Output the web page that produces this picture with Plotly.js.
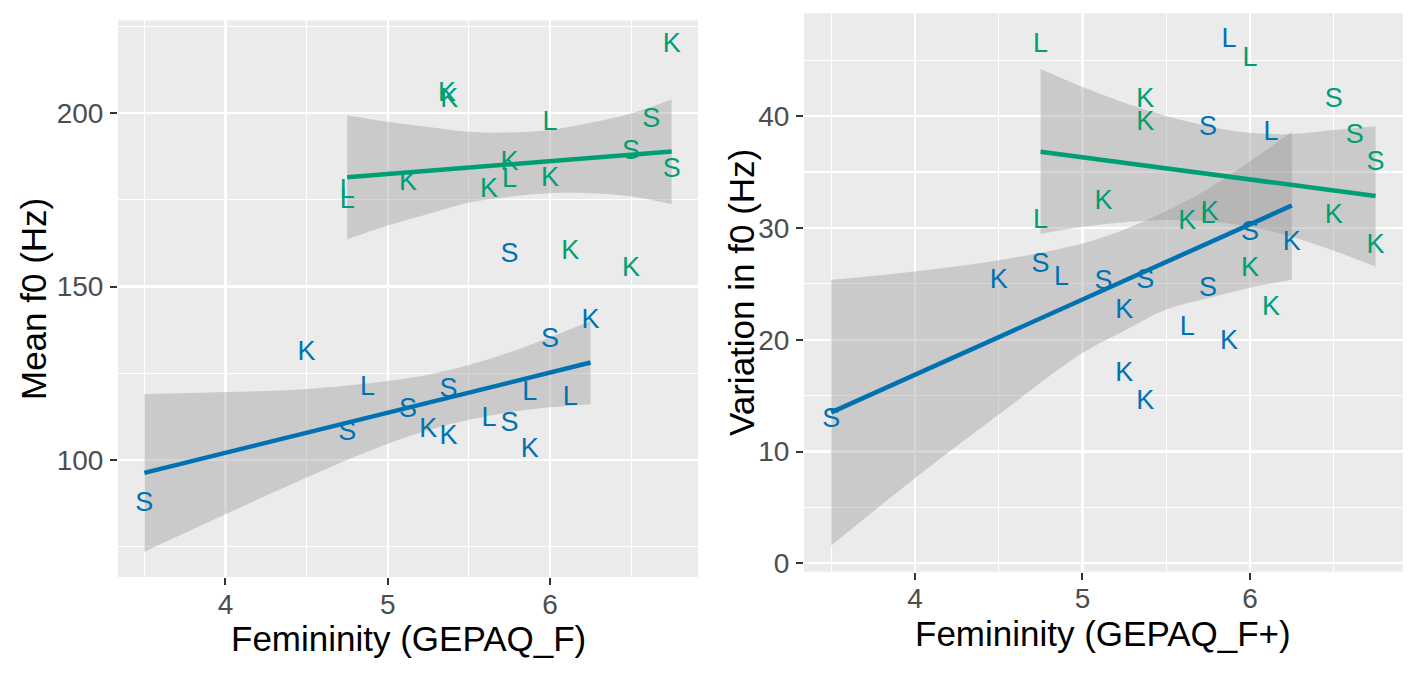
<!DOCTYPE html>
<html>
<head>
<meta charset="utf-8">
<script src="https://cdn.plot.ly/plotly-3.0.1.min.js"></script>
<style>
    html, body { margin: 0; padding: 0; background: #fff; }
    #chart { width: 1417px; height: 675px; }
</style>
</head>
<body>
<div id="chart"></div>
<script>
// ---- left panel: Mean f0 vs GEPAQ_F ----
const leftGreenX = [6.75, 5.365, 5.38, 6.0, 6.625, 6.5, 6.75, 5.75, 5.75, 6.0, 5.125, 5.625, 4.75, 4.75, 6.125, 6.5];
const leftGreenY = [219.4, 205.3, 203.6, 197.2, 198.0, 188.7, 183.6, 185.5, 180.7, 180.9, 179.7, 177.8, 177.6, 174.7, 159.9, 155.0];
const leftGreenLab = ['K', 'K', 'K', 'L', 'S', 'S', 'S', 'K', 'L', 'K', 'K', 'K', 'L', 'L', 'K', 'K'];

const leftBlueX = [6.25, 6.0, 4.5, 4.875, 5.375, 5.875, 6.125, 5.125, 4.75, 5.25, 5.375, 5.625, 5.75, 5.875, 3.5, 5.75];
const leftBlueY = [139.9, 134.6, 130.7, 120.8, 120.2, 119.2, 117.8, 114.4, 107.7, 108.6, 106.7, 111.8, 110.2, 102.9, 87.2, 159.1];
const leftBlueLab = ['K', 'S', 'K', 'L', 'S', 'L', 'L', 'S', 'S', 'K', 'K', 'L', 'S', 'K', 'S', 'S'];

const leftGreenFitX = [4.75, 6.75];
const leftGreenFitY = [181.5, 188.9];
const leftGreenBandX = [4.75, 5.0, 5.25, 5.5, 5.75, 6.0, 6.25, 6.5, 6.75];
const leftGreenBandHi = [199.4, 197.5, 196.0, 194.6, 194.4, 195.1, 197.2, 199.9, 203.9];
const leftGreenBandLo = [163.6, 167.6, 170.9, 174.2, 175.9, 176.9, 176.9, 176.0, 173.7];

const leftBlueFitX = [3.5, 6.25];
const leftBlueFitY = [96.3, 128.1];
const leftBlueBandX = [3.5, 4.0, 4.5, 5.0, 5.25, 5.5, 5.75, 6.0, 6.25];
const leftBlueBandHi = [119.0, 119.6, 120.5, 122.8, 124.6, 127.4, 131.0, 135.4, 140.1];
const leftBlueBandLo = [73.6, 84.4, 95.0, 104.7, 108.6, 111.6, 113.8, 115.2, 116.1];

// ---- right panel: Variation in f0 vs GEPAQ_F+ ----
const rightGreenX = [4.75, 6.0, 6.5, 5.375, 5.375, 6.625, 6.75, 5.125, 4.75, 5.625, 5.75, 5.76, 6.5, 6.75, 6.0, 6.125];
const rightGreenY = [46.3, 45.1, 41.4, 41.4, 39.4, 38.2, 35.8, 32.3, 30.6, 30.5, 31.0, 31.35, 31.0, 28.35, 26.3, 22.8];
const rightGreenLab = ['L', 'L', 'S', 'K', 'K', 'S', 'S', 'K', 'L', 'K', 'L', 'K', 'K', 'K', 'K', 'K'];

const rightBlueX = [5.875, 5.75, 6.125, 6.0, 6.25, 4.75, 4.875, 4.5, 5.125, 5.375, 5.75, 5.25, 5.625, 5.875, 5.25, 5.375, 3.5];
const rightBlueY = [46.8, 38.9, 38.46, 29.5, 28.6, 26.7, 25.5, 25.2, 25.1, 25.25, 24.55, 22.5, 21.0, 19.8, 16.9, 14.4, 12.8];
const rightBlueLab = ['L', 'S', 'L', 'S', 'K', 'S', 'L', 'K', 'S', 'S', 'S', 'K', 'L', 'K', 'K', 'K', 'S'];

const rightGreenFitX = [4.75, 6.75];
const rightGreenFitY = [36.8, 32.85];
const rightGreenBandX = [4.75, 5.0, 5.25, 5.5, 5.75, 6.0, 6.25, 6.5, 6.75];
const rightGreenBandHi = [44.2, 42.6, 41.2, 40.0, 39.1, 38.5, 38.4, 38.75, 39.1];
const rightGreenBandLo = [29.45, 30.1, 30.5, 30.7, 30.6, 30.1, 29.2, 27.95, 26.55];

const rightBlueFitX = [3.5, 6.25];
const rightBlueFitY = [13.5, 32.0];
const rightBlueBandX = [3.5, 4.0, 4.5, 5.0, 5.25, 5.5, 5.75, 6.0, 6.25];
const rightBlueBandHi = [25.35, 26.1, 27.1, 28.6, 29.85, 31.5, 33.5, 35.95, 38.6];
const rightBlueBandLo = [1.6, 7.6, 13.3, 18.8, 20.8, 22.7, 23.7, 24.65, 25.35];

const BLUE = '#0072B2';
const GREEN = '#009E73';
const BAND = 'rgba(153,153,153,0.4)';
const FONT = 'Liberation Sans, Arial, sans-serif';

function band(x, lo, hi, xa, ya) {
    let lower = {
        x: x, y: lo, xaxis: xa, yaxis: ya,
        type: 'scatter', mode: 'lines',
        line: { width: 0, shape: 'spline' },
        hoverinfo: 'skip', showlegend: false
    };
    let upper = {
        x: x, y: hi, xaxis: xa, yaxis: ya,
        type: 'scatter', mode: 'lines',
        line: { width: 0, shape: 'spline' },
        fill: 'tonexty', fillcolor: BAND,
        hoverinfo: 'skip', showlegend: false
    };
    return [lower, upper];
}

function labels(x, y, lab, color, xa, ya) {
    return {
        x: x, y: y, text: lab, xaxis: xa, yaxis: ya,
        type: 'scatter', mode: 'text',
        textposition: 'middle center',
        textfont: { family: FONT, size: 27, color: color },
        cliponaxis: false,
        hoverinfo: 'skip', showlegend: false
    };
}

function fit(x, y, color, xa, ya) {
    return {
        x: x, y: y, xaxis: xa, yaxis: ya,
        type: 'scatter', mode: 'lines',
        line: { color: color, width: 4.5 },
        hoverinfo: 'skip', showlegend: false
    };
}

let data = [].concat(
    band(leftGreenBandX, leftGreenBandLo, leftGreenBandHi, 'x', 'y'),
    band(leftBlueBandX, leftBlueBandLo, leftBlueBandHi, 'x', 'y'),
    [labels(leftGreenX, leftGreenY, leftGreenLab, GREEN, 'x', 'y'),
     labels(leftBlueX, leftBlueY, leftBlueLab, BLUE, 'x', 'y'),
     fit(leftGreenFitX, leftGreenFitY, GREEN, 'x', 'y'),
     fit(leftBlueFitX, leftBlueFitY, BLUE, 'x', 'y')],

    band(rightGreenBandX, rightGreenBandLo, rightGreenBandHi, 'x2', 'y2'),
    band(rightBlueBandX, rightBlueBandLo, rightBlueBandHi, 'x2', 'y2'),
    [labels(rightGreenX, rightGreenY, rightGreenLab, GREEN, 'x2', 'y2'),
     labels(rightBlueX, rightBlueY, rightBlueLab, BLUE, 'x2', 'y2'),
     fit(rightGreenFitX, rightGreenFitY, GREEN, 'x2', 'y2'),
     fit(rightBlueFitX, rightBlueFitY, BLUE, 'x2', 'y2')]
);

// shared ggplot-ish axis look
function axis(extra) {
    let base = {
        showline: false, zeroline: false,
        ticks: 'outside', ticklen: 7, tickwidth: 2, tickcolor: '#333333',
        tickfont: { family: FONT, size: 28, color: '#4D4D4D' },
        showgrid: true, gridcolor: '#FFFFFF', gridwidth: 2.2,
        fixedrange: true
    };
    return Object.assign(base, extra);
}

function title(text, x, y, angle) {
    return {
        text: text, xref: 'paper', yref: 'paper',
        x: x / 1417, y: 1 - y / 675,
        xanchor: 'center', yanchor: 'middle',
        textangle: angle, showarrow: false,
        font: { family: FONT, size: 35, color: '#000000' }
    };
}

let layout = {
    width: 1417, height: 675,
    margin: { l: 0, r: 0, t: 0, b: 0 },
    paper_bgcolor: '#FFFFFF',
    plot_bgcolor: '#EBEBEB',
    showlegend: false,
    xaxis: axis({
        domain: [118 / 1417, 698 / 1417], range: [3.3375, 6.9125], anchor: 'y',
        tick0: 0, dtick: 1, ticklabelstandoff: -5,
        minor: { tick0: 0, dtick: 0.5, showgrid: true, gridcolor: '#FFFFFF', gridwidth: 1.1, ticks: '' }
    }),
    yaxis: axis({
        domain: [(675 - 577) / 675, (675 - 20.4) / 675], range: [66.3, 226.7], anchor: 'x',
        tick0: 0, dtick: 50, ticklabelstandoff: 1,
        minor: { tick0: 0, dtick: 25, showgrid: true, gridcolor: '#FFFFFF', gridwidth: 1.1, ticks: '' }
    }),
    xaxis2: axis({
        domain: [804 / 1417, 1402.8 / 1417], range: [3.3375, 6.9125], anchor: 'y2',
        tick0: 0, dtick: 1, ticklabelstandoff: -5,
        minor: { tick0: 0, dtick: 0.5, showgrid: true, gridcolor: '#FFFFFF', gridwidth: 1.1, ticks: '' }
    }),
    yaxis2: axis({
        domain: [(675 - 571.7) / 675, (675 - 13.2) / 675], range: [-0.75, 49.2], anchor: 'x2',
        tick0: 0, dtick: 10, ticklabelstandoff: 1,
        minor: { tick0: 0, dtick: 5, showgrid: true, gridcolor: '#FFFFFF', gridwidth: 1.1, ticks: '' }
    }),
    annotations: [
        title('Mean f0 (Hz)', 33, 299, -90),
        title('Femininity (GEPAQ_F)', 408, 638, 0),
        title('Variation in f0 (Hz)', 741, 293, -90),
        title('Femininity (GEPAQ_F+)', 1103, 633, 0)
    ]
};

Plotly.newPlot('chart', data, layout, { staticPlot: true, displayModeBar: false });
</script>
</body>
</html>
